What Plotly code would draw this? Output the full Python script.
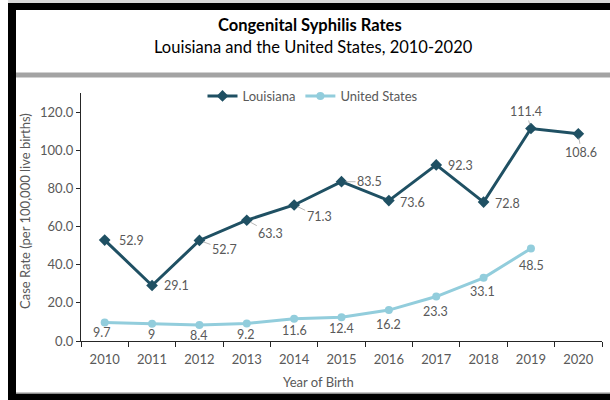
import plotly.graph_objects as go

years = ["2010", "2011", "2012", "2013", "2014", "2015", "2016", "2017", "2018", "2019", "2020"]
louisiana = [52.9, 29.1, 52.7, 63.3, 71.3, 83.5, 73.6, 92.3, 72.8, 111.4, 108.6]
united_states = [9.7, 9, 8.4, 9.2, 11.6, 12.4, 16.2, 23.3, 33.1, 48.5, None]
la_labels = ["52.9", "29.1", "52.7", "63.3", "71.3", "83.5", "73.6", "92.3", "72.8", "111.4", "108.6"]
us_labels = ["9.7", "9", "8.4", "9.2", "11.6", "12.4", "16.2", "23.3", "33.1", "48.5", None]
y_ticks = [0, 20, 40, 60, 80, 100, 120]

# label offsets in pixels (dx, dy downwards) and whether a leader line is drawn
la_off = [(27, 0, False), (24, 0, False), (25, 9, True), (24, 13, True), (25, 12, True),
          (28, 0, True), (24, 2, False), (24, 1, False), (24, 1, False), (-5, -17, True), (3, 19, True)]
us_off = [(-3, 10), (-1, 11), (-1, 11), (-1, 11), (0, 12), (0, 11), (0, 14), (-1, 15), (-1, 14), (1, 17)]

W, H = 610, 400
L, R, T, B = 81, 8, 93, 59
pw, ph = W - L - R, H - T - B

def px(x):
    return (x - L) / pw

def py(y):
    return (H - B - y) / ph

LA_COL = "#1F5063"
US_COL = "#92CDDC"
TXT = "#595959"
FONT = "Lato, 'Open Sans', sans-serif"

fig = go.Figure()
fig.add_trace(go.Scatter(x=years, y=louisiana, name="Louisiana", mode="lines+markers",
                         line=dict(color=LA_COL, width=3),
                         marker=dict(symbol="diamond", size=9, color=LA_COL)))
fig.add_trace(go.Scatter(x=years, y=united_states, name="United States", mode="lines+markers",
                         line=dict(color=US_COL, width=3),
                         marker=dict(symbol="circle", size=8, color=US_COL)))

LBL = dict(size=12.5, color=TXT, family=FONT)
ann = []
for i, (v, t) in enumerate(zip(louisiana, la_labels)):
    dx, dy, lead = la_off[i]
    if lead:
        ann.append(dict(x=i, y=v, xref="x", yref="y", text=t, showarrow=True,
                        ax=dx, ay=dy, arrowhead=0, arrowwidth=0.8, arrowcolor="#a6a6a6",
                        standoff=4, font=LBL))
    else:
        ann.append(dict(x=i, y=v, xref="x", yref="y", text=t, showarrow=False,
                        xshift=dx, yshift=-dy, font=LBL))
for i, (v, t) in enumerate(zip(united_states, us_labels)):
    if v is None:
        continue
    dx, dy = us_off[i]
    ann.append(dict(x=i, y=v, xref="x", yref="y", text=t, showarrow=False,
                    xshift=dx, yshift=-dy, font=LBL))

ann.append(dict(x=px(310), y=py(25), xref="paper", yref="paper", text="<b>Congenital Syphilis Rates</b>",
                showarrow=False, xanchor="center", yanchor="middle",
                font=dict(size=16.5, color="#000000", family=FONT)))
ann.append(dict(x=px(313), y=py(47), xref="paper", yref="paper", text="Louisiana and the United States, 2010-2020",
                showarrow=False, xanchor="center", yanchor="middle",
                font=dict(size=16.5, color="#000000", family=FONT)))
ann.append(dict(x=px(25), y=py(211), xref="paper", yref="paper", text="Case Rate (per 100,000 live births)",
                showarrow=False, xanchor="center", yanchor="middle", textangle=-90,
                font=dict(size=13, color=TXT, family=FONT)))
ann.append(dict(x=px(318), y=py(382), xref="paper", yref="paper", text="Year of Birth",
                showarrow=False, xanchor="center", yanchor="middle",
                font=dict(size=13, color=TXT, family=FONT)))

shapes = [
    dict(type="rect", xref="paper", yref="paper", x0=px(8), x1=px(610), y0=py(0), y1=py(3),
         fillcolor="#d9d9d9", line=dict(width=0), layer="above"),
    dict(type="rect", xref="paper", yref="paper", x0=px(8), x1=px(610), y0=py(3), y1=py(10),
         fillcolor="#000000", line=dict(width=0), layer="above"),
    dict(type="rect", xref="paper", yref="paper", x0=px(8), x1=px(16), y0=py(3), y1=py(400),
         fillcolor="#000000", line=dict(width=0), layer="above"),
    dict(type="rect", xref="paper", yref="paper", x0=px(8), x1=px(610), y0=py(394), y1=py(400),
         fillcolor="#000000", line=dict(width=0), layer="above"),
    dict(type="rect", xref="paper", yref="paper", x0=px(16), x1=px(610), y0=py(392.5), y1=py(394),
         fillcolor="#8c8c8c", line=dict(width=0), layer="above"),
    dict(type="rect", xref="paper", yref="paper", x0=px(16), x1=px(610), y0=py(72.5), y1=py(77.5),
         fillcolor="#a3a3a3", line=dict(width=0), layer="above"),
]

fig.update_layout(
    width=W, height=H,
    margin=dict(l=L, r=R, t=T, b=B, autoexpand=False),
    paper_bgcolor="white", plot_bgcolor="white",
    font=dict(family=FONT, size=13, color=TXT),
    showlegend=True,
    legend=dict(orientation="h", x=px(313), xanchor="center", y=py(96), yanchor="middle",
                font=dict(size=13, color=TXT, family=FONT), itemwidth=30,
                bgcolor="rgba(0,0,0,0)"),
    annotations=ann,
    shapes=shapes,
    xaxis=dict(type="category", range=[-0.5, 10.5], tickson="boundaries", ticks="outside",
               ticklen=5, tickcolor="#262626", showline=True, linecolor="#262626", linewidth=1.3,
               showgrid=False, zeroline=False, ticklabelstandoff=6,
               tickfont=dict(size=13, color=TXT, family=FONT)),
    yaxis=dict(range=[0, 130], tickvals=y_ticks, ticktext=[f"{v:.1f}" for v in y_ticks],
               ticks="outside", ticklen=4, tickcolor="#262626", showline=True, linecolor="#262626",
               linewidth=1.3, showgrid=False, zeroline=False, ticklabelstandoff=0,
               tickfont=dict(size=13, color=TXT, family=FONT)),
)

fig.write_html("out.html", config={"displayModeBar": False},
               post_script="document.body.style.margin='0';document.body.style.overflow='hidden';")
